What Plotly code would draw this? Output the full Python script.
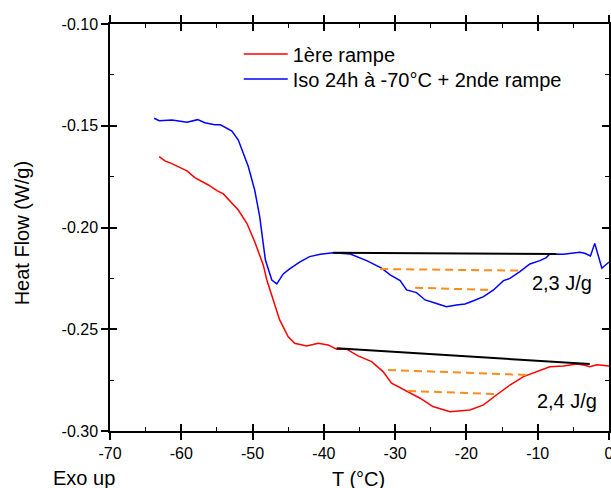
import plotly.graph_objects as go

# ---- data ----
red_name = "1ère rampe"
red_x = [-63.1, -62.3, -61.4, -59.2, -58.1, -56.2, -55.0, -54.1, -52.0, -50.8, -49.7, -48.5, -48.0,
         -47.1, -46.2, -45.0, -44.1, -42.4, -40.8, -39.4, -38.2, -36.8, -35.2, -33.3, -31.7, -30.5,
         -28.4, -26.5, -24.7, -22.3, -19.5, -17.6, -15.8, -13.9, -12.0, -10.2, -8.3, -6.4, -4.5,
         -3.4, -2.7, -1.7, 0.0]
red_y = [-0.1652, -0.1673, -0.1685, -0.1722, -0.1755, -0.1791, -0.1819, -0.1835, -0.1914, -0.1979,
         -0.2070, -0.2184, -0.2258, -0.2356, -0.2454, -0.2537, -0.2569, -0.2582, -0.2569, -0.2577,
         -0.2598, -0.2598, -0.2631, -0.2659, -0.2708, -0.2765, -0.2806, -0.2839, -0.2880, -0.2905,
         -0.2897, -0.2872, -0.2823, -0.2774, -0.2733, -0.2708, -0.2684, -0.2681, -0.2671, -0.2677,
         -0.2684, -0.2674, -0.2681]

blue_name = "Iso 24h à -70°C + 2nde rampe"
blue_x = [-63.8, -63.1, -61.3, -59.2, -57.7, -56.7, -55.3, -54.5, -52.9, -52.0, -50.6, -49.7, -49.0,
          -48.2, -47.3, -46.6, -45.7, -44.8, -43.4, -42.0, -40.5, -38.7, -36.3, -34.0, -31.9, -30.7,
          -29.3, -28.4, -27.0, -25.8, -24.2, -22.8, -21.4, -20.2, -19.0, -17.6, -16.2, -14.8, -13.9,
          -12.5, -11.1, -9.7, -8.8, -8.3, -6.4, -4.1, -3.4, -2.6, -2.0, -1.0, 0.0]
blue_y = [-0.1463, -0.1475, -0.1472, -0.1483, -0.1470, -0.1485, -0.1495, -0.1495, -0.1526, -0.1570,
          -0.1700, -0.1816, -0.1947, -0.2160, -0.2258, -0.2277, -0.2228, -0.2203, -0.2170, -0.2143,
          -0.2132, -0.2124, -0.2130, -0.2163, -0.2200, -0.2233, -0.2261, -0.2307, -0.2320, -0.2356,
          -0.2373, -0.2389, -0.2381, -0.2376, -0.2360, -0.2340, -0.2307, -0.2261, -0.2250, -0.2217,
          -0.2179, -0.2163, -0.2148, -0.2130, -0.2132, -0.2122, -0.2127, -0.2140, -0.2078, -0.2200,
          -0.2170]

# baselines (black) and orange dashed guides
blue_base_x = [-38.7, -7.4]
blue_base_y = [-0.2124, -0.2130]
red_base_x = [-38.2, -2.7]
red_base_y = [-0.2593, -0.2671]
blue_guide1_x = [-32.1, -12.0]
blue_guide1_y = [-0.2204, -0.2212]
blue_guide2_x = [-27.2, -16.5]
blue_guide2_y = [-0.2296, -0.2307]
red_guide1_x = [-31.0, -11.1]
red_guide1_y = [-0.2700, -0.2725]
red_guide2_x = [-28.2, -15.5]
red_guide2_y = [-0.2803, -0.2819]

enthalpy_labels = ["2,3 J/g", "2,4 J/g"]
enthalpy_x = [-6.6, -5.9]
enthalpy_y = [-0.2282, -0.2862]

x_ticks = [-70, -60, -50, -40, -30, -20, -10, 0]
y_ticks = [-0.30, -0.25, -0.20, -0.15, -0.10]

FONT = "Liberation Sans, Arial, sans-serif"
ORANGE = "#ff8c1a"

fig = go.Figure()
fig.add_trace(go.Scatter(x=red_x, y=red_y, mode="lines", name=red_name, legend="legend",
                         line=dict(color="#ff0000", width=1.5)))
fig.add_trace(go.Scatter(x=blue_x, y=blue_y, mode="lines", name=blue_name, legend="legend2",
                         line=dict(color="#0000ff", width=1.5)))
for bx, by in [(blue_base_x, blue_base_y), (red_base_x, red_base_y)]:
    fig.add_trace(go.Scatter(x=bx, y=by, mode="lines", showlegend=False,
                             line=dict(color="black", width=2)))
for gx, gy in [(blue_guide1_x, blue_guide1_y), (blue_guide2_x, blue_guide2_y),
               (red_guide1_x, red_guide1_y), (red_guide2_x, red_guide2_y)]:
    fig.add_trace(go.Scatter(x=gx, y=gy, mode="lines", showlegend=False,
                             line=dict(color=ORANGE, width=2, dash="8px,5px")))
fig.add_trace(go.Scatter(x=enthalpy_x, y=enthalpy_y, mode="text", text=enthalpy_labels,
                         showlegend=False, textfont=dict(size=20, color="black", family=FONT)))
# overlay axes for inside ticks
fig.add_trace(go.Scatter(x=[], y=[], xaxis="x2", yaxis="y2", showlegend=False, hoverinfo="skip"))

common = dict(showgrid=False, zeroline=False, linecolor="black",
              tickcolor="black", tickwidth=1.5, automargin=False)
legend_common = dict(xanchor="left", yanchor="middle", bgcolor="rgba(0,0,0,0)",
                     font=dict(size=20), itemwidth=44)
fig.update_layout(
    width=611, height=488, autosize=False,
    margin=dict(l=110, r=2, t=24, b=57),
    paper_bgcolor="white", plot_bgcolor="white",
    font=dict(family=FONT, color="black", size=16),
    xaxis=dict(range=[-70, 0], tickvals=x_ticks, ticktext=[str(v) for v in x_ticks],
               ticks="outside", ticklen=7, showline=True, linewidth=1.5, mirror="ticks",
               ticklabeloverflow="allow", tickfont=dict(size=16), **common),
    yaxis=dict(range=[-0.30, -0.10], tickvals=y_ticks, ticktext=[f"{v:.2f}" for v in y_ticks],
               ticks="outside", ticklen=7, showline=True, linewidth=1.5, mirror="ticks",
               tickfont=dict(size=16), **common),
    xaxis2=dict(range=[-70, 0], overlaying="x", anchor="y2", side="bottom", tickvals=x_ticks,
                ticks="inside", ticklen=7, showline=False, mirror="ticks", showticklabels=False,
                minor=dict(dtick=5, tick0=-70, ticks="inside", ticklen=4, tickcolor="black", tickwidth=1.2),
                **common),
    yaxis2=dict(range=[-0.30, -0.10], overlaying="y", anchor="x2", side="left", tickvals=y_ticks,
                ticks="inside", ticklen=7, showline=False, mirror="ticks", showticklabels=False,
                minor=dict(dtick=0.025, tick0=-0.30, ticks="inside", ticklen=4, tickcolor="black", tickwidth=1.2),
                **common),
    legend=dict(x=0.258, y=0.926, **legend_common),
    legend2=dict(x=0.258, y=0.865, **legend_common),
    showlegend=True,
    annotations=[
        dict(text="Heat Flow (W/g)", xref="paper", yref="paper", x=-0.176, y=0.486,
             textangle=-90, showarrow=False, font=dict(size=20), xanchor="center", yanchor="middle"),
        dict(text="T (°C)", xref="paper", yref="paper", x=0.497, y=-0.117,
             showarrow=False, font=dict(size=20), xanchor="center", yanchor="middle"),
        dict(text="Exo up", xref="paper", yref="paper", x=-0.118, y=-0.115,
             showarrow=False, font=dict(size=20), xanchor="left", yanchor="middle"),
    ],
)

fig.write_html("out.html", config={"responsive": False, "displayModeBar": False},
               post_script="document.body.style.margin='0';document.body.style.overflow='hidden';")
